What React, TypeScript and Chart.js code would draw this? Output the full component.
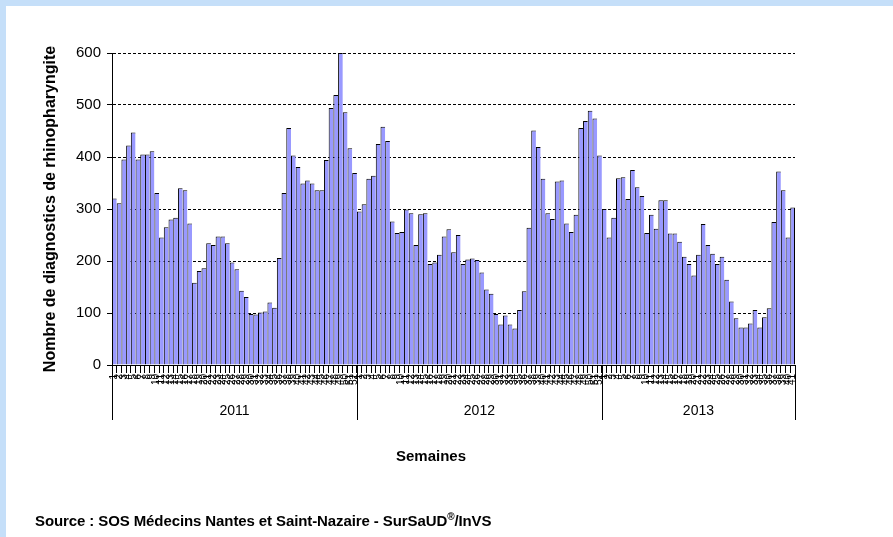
import React, { useEffect, useRef } from 'react';
import { Chart, registerables } from 'chart.js';

Chart.register(...registerables);

const WEEKS = [
  '1', '2', '3', '4', '5', '6', '7', '8', '9', '10', '11', '12', '13',
  '14', '15', '16', '17', '18', '19', '20', '21', '22', '23', '24', '25', '26',
  '27', '28', '29', '30', '31', '32', '33', '34', '35', '36', '37', '38', '39',
  '40', '41', '42', '43', '44', '45', '46', '47', '48', '49', '50', '51', '52',
];
const YEARS = ['2011', '2012', '2013'];

const VALUES_2011 = [
  320, 311, 395, 422, 447, 395, 405, 405, 411, 331,
  245, 265, 280, 283, 340, 336, 272, 158, 181, 186,
  234, 231, 247, 247, 234, 197, 184, 143, 131, 98,
  97, 101, 103, 120, 110, 206, 331, 456, 403, 381,
  349, 355, 349, 336, 336, 394, 494, 519, 600, 486,
  417, 369,
];
const VALUES_2012 = [
  295, 309, 358, 364, 425, 458, 431, 276, 254, 256,
  299, 292, 231, 290, 292, 194, 197, 212, 247, 261,
  217, 250, 194, 203, 205, 202, 178, 145, 137, 98,
  78, 95, 78, 70, 106, 142, 264, 451, 419, 358,
  292, 281, 353, 355, 272, 256, 289, 456, 469, 489,
  474, 403,
];
const VALUES_2013 = [
  300, 245, 283, 359, 361, 319, 375, 342, 325, 254,
  289, 262, 317, 317, 253, 253, 237, 208, 194, 172,
  212, 271, 231, 214, 194, 208, 164, 122, 90, 72,
  72, 80, 106, 72, 92, 109, 275, 372, 336, 245,
  303,
];

const Y_MIN = 0;
const Y_MAX = 600;
const Y_STEP = 100;
const X_TITLE = 'Semaines';
const Y_TITLE = 'Nombre de diagnostics de rhinopharyngite';
const SOURCE_MAIN = 'Source : SOS Médecins Nantes et Saint-Nazaire - SurSaUD';
const SOURCE_MARK = '®';
const SOURCE_END = '/InVS';

const FONT = "'Liberation Sans', Arial, Helvetica, sans-serif";

const YEAR_SERIES = [VALUES_2011, VALUES_2012, VALUES_2013];

export default function App() {
  const canvasRef = useRef<HTMLCanvasElement | null>(null);

  useEffect(() => {
    const canvas = canvasRef.current;
    if (!canvas) return;

    const labels: string[] = [];
    const values: number[] = [];
    YEAR_SERIES.forEach((arr) => {
      arr.forEach((v, i) => {
        labels.push(WEEKS[i]);
        values.push(v);
      });
    });
    const n = values.length;

    const yearPlugin = {
      id: 'yearGroups',
      afterDraw(chart: any) {
        const { ctx, chartArea } = chart;
        const xs = chart.scales.x;
        const half = (xs.getPixelForValue(1) - xs.getPixelForValue(0)) / 2;
        const bounds: number[] = [xs.getPixelForValue(0) - half];
        let idx = 0;
        YEAR_SERIES.forEach((arr) => {
          idx += arr.length;
          bounds.push(xs.getPixelForValue(idx - 1) + half);
        });
        ctx.save();
        ctx.strokeStyle = '#000';
        ctx.lineWidth = 1;
        bounds.forEach((b) => {
          const x = Math.round(b) + 0.5;
          ctx.beginPath();
          ctx.moveTo(x, chartArea.bottom);
          ctx.lineTo(x, chartArea.bottom + 55);
          ctx.stroke();
        });
        ctx.fillStyle = '#000';
        ctx.textAlign = 'center';
        ctx.textBaseline = 'middle';
        ctx.font = `14px ${FONT}`;
        YEARS.forEach((y, i) => {
          ctx.fillText(y, (bounds[i] + bounds[i + 1]) / 2, chartArea.bottom + 46);
        });
        ctx.font = `bold 15px ${FONT}`;
        ctx.fillText(X_TITLE, 431, chartArea.bottom + 92);
        ctx.restore();
      },
    };

    const chart = new Chart(canvas, {
      type: 'bar',
      data: {
        labels,
        datasets: [
          {
            data: values,
            backgroundColor: '#9999FF',
            borderColor: '#000000',
            borderWidth: (c: any) => ({
              top: 1,
              left: 1,
              right: c.dataIndex === n - 1 ? 1 : 0,
              bottom: 0,
            }),
            borderSkipped: false,
            barPercentage: 1,
            categoryPercentage: 1,
            inflateAmount: 0,
          } as any,
        ],
      },
      options: {
        responsive: false,
        animation: false,
        devicePixelRatio: 1,
        layout: { padding: { left: 41, right: 98, top: 53, bottom: 0 } },
        plugins: {
          legend: { display: false },
          tooltip: { enabled: false },
        },
        scales: {
          x: {
            grid: {
              drawOnChartArea: false,
              drawTicks: true,
              tickLength: 8,
              color: '#000',
              offset: true,
            },
            border: { display: true, color: '#000' },
            ticks: {
              autoSkip: false,
              maxRotation: 90,
              minRotation: 90,
              padding: 1,
              color: '#000',
              font: { family: FONT, size: 10 },
            },
            afterFit: (s: any) => {
              s.height = 172;
            },
          },
          y: {
            min: Y_MIN,
            max: Y_MAX,
            ticks: {
              stepSize: Y_STEP,
              padding: 6,
              color: '#000',
              font: { family: FONT, size: 15 },
            },
            grid: { color: '#000', tickLength: 5, tickColor: '#000' },
            border: { display: true, color: '#000', dash: [3, 2] },
            title: {
              display: true,
              text: Y_TITLE,
              color: '#000',
              font: { family: FONT, size: 16, weight: 'bold' },
              padding: 0,
            },
            afterFit: (s: any) => {
              s.width = 71;
            },
          },
        },
      } as any,
      plugins: [yearPlugin],
    });

    return () => chart.destroy();
  }, []);

  return (
    <div
      style={{
        position: 'fixed',
        left: 0,
        top: 0,
        width: 893,
        height: 537,
        background: '#C5DFF9',
        overflow: 'hidden',
      }}
    >
      <div
        style={{
          position: 'absolute',
          left: 6,
          top: 6,
          right: 0,
          bottom: 0,
          background: '#FFFFFF',
        }}
      />
      <canvas
        ref={canvasRef}
        width={893}
        height={537}
        style={{ position: 'absolute', left: 0, top: 0, width: 893, height: 537 }}
      />
      <div
        style={{
          position: 'absolute',
          left: 35,
          top: 512,
          fontFamily: FONT,
          fontWeight: 'bold',
          fontSize: 15,
          lineHeight: '17px',
          color: '#000',
          whiteSpace: 'nowrap',
          letterSpacing: '-0.1px',
        }}
      >
        {SOURCE_MAIN}
        <span style={{ fontSize: 10, verticalAlign: 'super', lineHeight: 0 }}>{SOURCE_MARK}</span>
        {SOURCE_END}
      </div>
    </div>
  );
}
